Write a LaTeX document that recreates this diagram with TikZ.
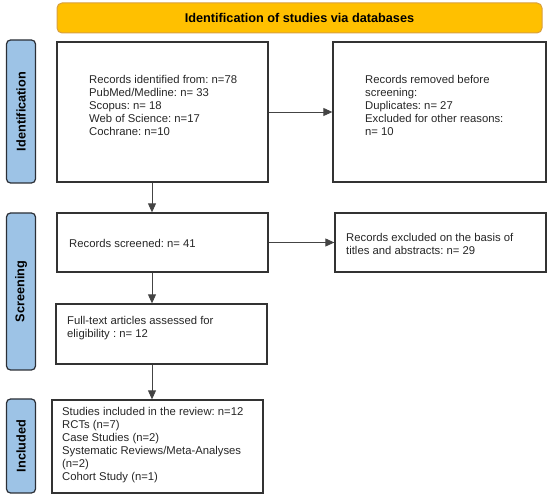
\documentclass[tikz,border=0pt]{standalone}
\usepackage{fontspec}
\setmainfont{Liberation Sans}
\usetikzlibrary{arrows.meta}
\definecolor{bannerfill}{HTML}{FFC000}
\definecolor{bannerdraw}{HTML}{D8A040}
\definecolor{sidefill}{HTML}{9DC3E6}
\definecolor{sidedraw}{HTML}{2B2F36}
\definecolor{boxdraw}{HTML}{333333}
\definecolor{arrdraw}{HTML}{444444}
\tikzset{
  banner/.style={draw=bannerdraw, fill=bannerfill, line width=1pt, rounded corners=5pt, inner sep=0pt},
  side/.style={draw=sidedraw, fill=sidefill, line width=1.2pt, rounded corners=4pt, inner sep=0pt, font=\fontsize{12.7}{14}\selectfont\bfseries},
  box/.style={draw=boxdraw, line width=1.3pt, inner sep=0pt},
  txt/.style={anchor=west, align=left, inner sep=0pt, font=\fontsize{11.3}{13}\selectfont\frenchspacing, text=black!85},
  arr/.style={draw=arrdraw, line width=0.9pt, -{Triangle[length=9pt,width=8pt]}}
}
\begin{document}
\frenchspacing
\begin{tikzpicture}[x=1pt,y=-1pt]
\useasboundingbox (0,0) rectangle (550,497);
% banner
\node[banner, minimum width=485pt, minimum height=30pt, font=\fontsize{12.7}{14}\selectfont\bfseries] (ban) at (299.5,18) {Identification of studies via databases};
% sidebars
\node[side, minimum width=29pt, minimum height=143pt] (s1) at (21,111.5) {\rotatebox{90}{Identification}};
\node[side, minimum width=29pt, minimum height=157pt] (s2) at (21,291.5) {\rotatebox{90}{Screening}};
\node[side, minimum width=29pt, minimum height=94pt] (s3) at (21,446) {\rotatebox{90}{Included}};
% boxes
\node[box, minimum width=211pt, minimum height=140pt] (b1) at (162.5,112) {};
\node[box, minimum width=213pt, minimum height=140pt] (b2) at (439.5,112) {};
\node[box, minimum width=211pt, minimum height=59pt] (b3) at (162.5,242.5) {};
\node[box, minimum width=211pt, minimum height=59pt] (b4) at (440.5,242.5) {};
\node[box, minimum width=211pt, minimum height=60pt] (b5) at (161.5,334) {};
\node[box, minimum width=211pt, minimum height=93pt] (b6) at (157.5,446.5) {};
% texts
\node[txt] (t1) at (89,105) {Records identified from: n=78\\PubMed/Medline: n= 33\\Scopus: n= 18\\Web of Science: n=17\\Cochrane: n=10};
\node[txt] (t2) at (365,105) {Records removed before\\screening:\\Duplicates: n= 27\\Excluded for other reasons:\\n= 10};
\node[txt] (t3) at (69,243) {Records screened: n= 41};
\node[txt] (t4) at (346,244) {Records excluded on the basis of\\titles and abstracts: n= 29};
\node[txt] (t5) at (67,328) {Full-text articles assessed for\\eligibility : n= 12};
\node[txt] (t6) at (62,445.5) {Studies included in the review: n=12\\RCTs (n=7)\\Case Studies (n=2)\\Systematic Reviews/Meta-Analyses\\(n=2)\\Cohort Study (n=1)};
% connectors
\coordinate (xa) at (152,0);
\draw[arr] (b1.east) -- (b2.west);
\draw[arr] (b3.east) -- (b4.west);
\draw[arr] (b1.south -| xa) -- (b3.north -| xa);
\draw[arr] (b3.south -| xa) -- (b5.north -| xa);
\draw[arr] (b5.south -| xa) -- (b6.north -| xa);
\end{tikzpicture}
\end{document}
